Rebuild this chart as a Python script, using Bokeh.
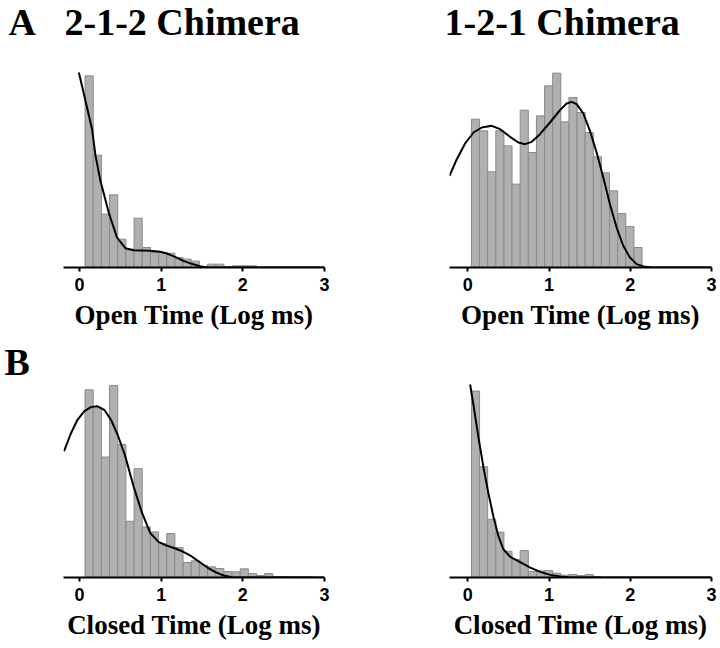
from bokeh.plotting import figure
from bokeh.models import Range1d, FixedTicker
from bokeh.layouts import column, row
from bokeh.core.properties import value
from bokeh.embed import file_html
from bokeh.resources import INLINE

# ---------------- data ----------------
tick_values = [0, 1, 2, 3]
bin_width = 0.1

headings = ["A", "2-1-2 Chimera", "1-2-1 Chimera", "B"]
open_label = "Open Time (Log ms)"
closed_label = "Closed Time (Log ms)"

# 2-1-2 chimera, open times
open212_first_edge = 0.068
open212_counts = [575, 337, 160, 218, 85, 55, 148, 60, 45, 45, 43, 30, 25, 19,
                  3, 10, 10, 2, 5, 5, 5]
open212_fit_x = [-0.008, 0.053, 0.154, 0.195, 0.256, 0.358, 0.459, 0.561, 0.663,
                 0.866, 0.988, 1.069, 1.171, 1.272, 1.374, 1.476, 1.557, 3.0]
open212_fit_y = [585, 521, 415, 337, 260, 165, 90, 58, 52, 50, 47, 42, 32, 20,
                 11, 4, 0, 0]

# 1-2-1 chimera, open times
open121_first_edge = 0.045
open121_counts = [445, 410, 287, 410, 365, 250, 472, 345, 455, 545, 583, 437, 510,
                  465, 405, 332, 284, 230, 162, 123, 60]
open121_fit_x = [-0.225, -0.135, -0.033, 0.070, 0.172, 0.295, 0.398, 0.520, 0.623,
                 0.705, 0.787, 0.889, 1.012, 1.135, 1.217, 1.279, 1.340, 1.422,
                 1.504, 1.586, 1.668, 1.750, 1.832, 1.914, 1.996, 2.078, 2.180,
                 2.283, 3.0]
open121_fit_y = [275, 325, 372, 405, 420, 425, 415, 392, 375, 370, 377, 400, 435,
                 472, 492, 497, 490, 462, 410, 345, 270, 190, 120, 65, 30, 10, 2,
                 0, 0]

# 2-1-2 chimera, closed times
closed212_first_edge = 0.068
closed212_counts = [564, 512, 362, 577, 400, 169, 327, 152, 137, 102, 132, 90, 45,
                    50, 37, 32, 27, 18, 17, 26, 12, 6, 12, 3, 3, 2, 2, 2]
closed212_fit_x = [-0.189, -0.107, -0.025, 0.057, 0.139, 0.213, 0.303, 0.385,
                   0.467, 0.557, 0.664, 0.766, 0.865, 0.967, 1.066, 1.164, 1.266,
                   1.369, 1.467, 1.566, 1.664, 1.766, 1.881, 3.0]
closed212_fit_y = [380, 432, 474, 499, 512, 515, 504, 474, 429, 367, 272, 194, 134,
                   107, 96, 88, 78, 64, 47, 30, 16, 6, 0, 0]

# 1-2-1 chimera, closed times
closed121_first_edge = 0.045
closed121_counts = [567, 337, 177, 138, 80, 55, 82, 18, 20, 21, 13, 7, 9, 6, 9, 3]
closed121_fit_x = [0.029, 0.070, 0.132, 0.193, 0.255, 0.316, 0.378, 0.440, 0.522,
                   0.645, 0.769, 0.892, 1.015, 1.139, 1.262, 3.0]
closed121_fit_y = [587, 525, 425, 335, 255, 185, 125, 85, 63, 47, 30, 17, 8, 3, 0, 0]

# ---------------- styling ----------------
BAR_FILL = "#b0b0b0"
BAR_LINE = "#8a8a8a"
SERIF = "Liberation Serif"
SANS = "Liberation Sans"


def bare(p):
    p.outline_line_color = None
    p.xgrid.visible = False
    p.ygrid.visible = False
    p.background_fill_color = "white"
    p.border_fill_color = "white"


def panel(first_edge, counts, fit_x, fit_y, xlabel, x_start, width, height,
          b_left, b_right, b_top, b_bottom, y_end):
    p = figure(width=width, height=height, output_backend="svg",
               toolbar_location=None, y_axis_location=None,
               x_range=Range1d(x_start, 3.0), y_range=Range1d(0, y_end),
               min_border_left=b_left, min_border_right=b_right,
               min_border_top=b_top, min_border_bottom=b_bottom)
    bare(p)

    lefts = [first_edge + i * bin_width for i in range(len(counts))]
    rights = [l + bin_width for l in lefts]
    p.quad(left=lefts, right=rights, bottom=0, top=counts,
           fill_color=BAR_FILL, line_color=BAR_LINE, line_width=1)
    p.line(fit_x, fit_y, line_color="black", line_width=2)

    ax = p.xaxis[0]
    ax.ticker = FixedTicker(ticks=tick_values)
    ax.axis_line_width = 2
    ax.axis_line_color = "black"
    ax.major_tick_line_width = 2
    ax.major_tick_line_color = "black"
    ax.major_tick_in = 0
    ax.major_tick_out = 4
    ax.minor_tick_line_color = None
    ax.major_label_standoff = 6
    ax.major_label_text_font = SANS
    ax.major_label_text_font_style = "bold"
    ax.major_label_text_font_size = "18px"
    ax.major_label_text_color = "black"
    ax.axis_label = xlabel
    ax.axis_label_standoff = 6
    ax.axis_label_text_font = SERIF
    ax.axis_label_text_font_style = "bold"
    ax.axis_label_text_font_size = "27px"
    ax.axis_label_text_color = "black"
    return p


def strip(height, xs, ys, texts):
    s = figure(width=720, height=height, output_backend="svg",
               toolbar_location=None, x_axis_location=None, y_axis_location=None,
               x_range=Range1d(0, 720), y_range=Range1d(height, 0),
               min_border=0)
    bare(s)
    s.text(x=xs, y=ys, text=texts, text_font=value(SERIF),
           text_font_style="bold", text_font_size="38px", text_color="black",
           text_baseline="middle", text_align="left")
    return s


# heading strips above each row of panels
head_a = strip(45, [8, 64, 444], [21, 21, 21], headings[0:3])
head_b = strip(43, [4], [21.5], headings[3:4])

tl = panel(open212_first_edge, open212_counts, open212_fit_x, open212_fit_y,
           open_label, -0.196, 360, 295, 63, 36, 15, 73, 621)
tr = panel(open121_first_edge, open121_counts, open121_fit_x, open121_fit_y,
           open_label, -0.225, 360, 295, 89, 9, 15, 73, 621)
bl = panel(closed212_first_edge, closed212_counts, closed212_fit_x, closed212_fit_y,
           closed_label, -0.196, 360, 265, 63, 36, 0, 71, 583)
br = panel(closed121_first_edge, closed121_counts, closed121_fit_x, closed121_fit_y,
           closed_label, -0.225, 360, 265, 89, 9, 0, 70, 590)

layout = column(head_a, row(tl, tr), head_b, row(bl, br))

open("out.html", "w").write(file_html(layout, INLINE))
